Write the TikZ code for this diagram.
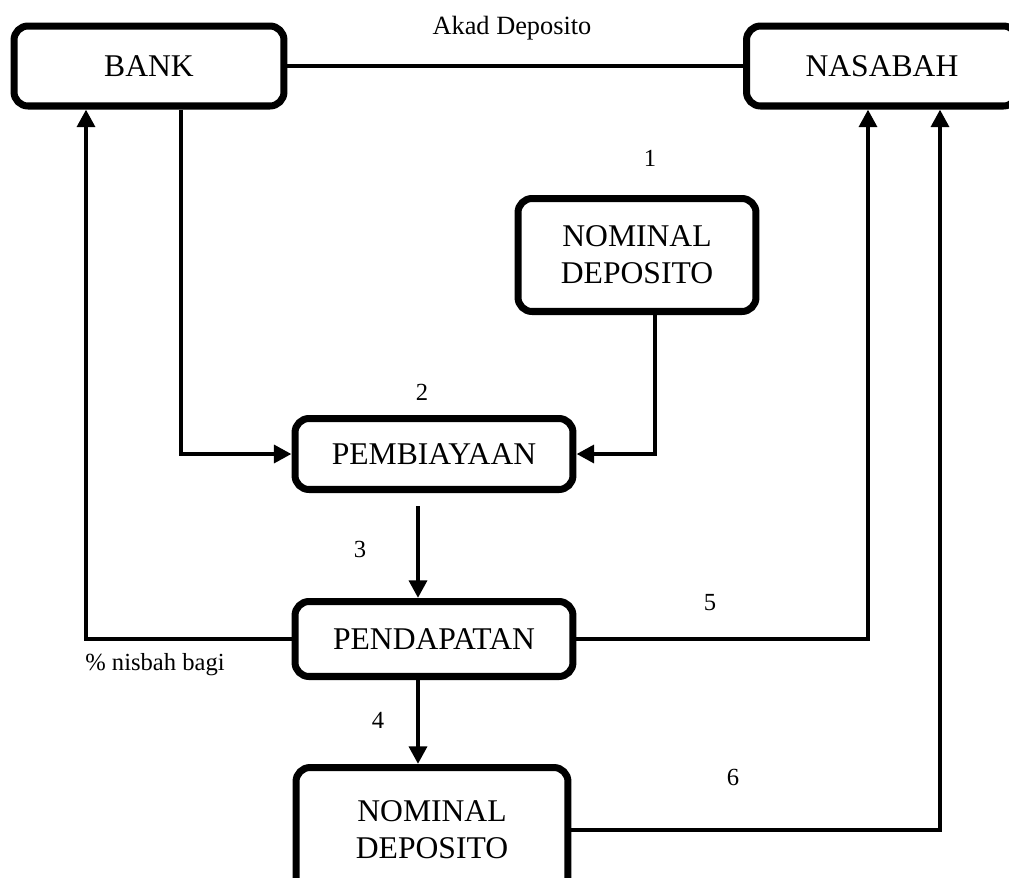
\documentclass[tikz,border=0pt]{standalone}
\usepackage{fontspec}
\setmainfont{Liberation Serif}
\usetikzlibrary{arrows.meta}
\begin{document}
\begin{tikzpicture}[x=0.02cm, y=-0.02cm, >={Triangle[length=10pt,width=10pt]},
	box/.style={draw, line width=4pt, rounded corners=8pt, align=center,
		font=\fontsize{18}{21}\selectfont},
	link/.style={line width=2.8pt},
	lbl/.style={font=\fontsize{14}{16}\selectfont}]
	\useasboundingbox (0,0) rectangle (1009,877);
	\clip (0,0) rectangle (1009,877);
	\node[box, minimum width=5.4cm, minimum height=1.6cm] (bank) at (149,66) {BANK};
	\node[box, minimum width=5.42cm, minimum height=1.6cm] (nasabah) at (882,66) {NASABAH};
	\node[box, minimum width=4.76cm, minimum height=2.26cm] (nomA) at (637,255) {NOMINAL\\DEPOSITO};
	\node[box, minimum width=5.56cm, minimum height=1.42cm] (pemb) at (434,454) {PEMBIAYAAN};
	\node[box, minimum width=5.56cm, minimum height=1.5cm] (pend) at (434,639) {PENDAPATAN};
	\node[box, minimum width=5.44cm, minimum height=2.5cm] (nomB) at (432,830) {NOMINAL\\DEPOSITO};
	\draw[link] (bank.east) -- (nasabah.west);
	\draw[link, ->] (181,0 |- bank.south) |- (pemb.west);
	\draw[link, ->] (655,0 |- nomA.south) |- (pemb.east);
	\draw[link, ->] (418,506) -- (418,0 |- pend.north);
	\draw[link, ->] (pend.west) -| (86,0 |- bank.south);
	\draw[link, ->] (pend.east) -| (868,0 |- nasabah.south);
	\draw[link, ->] (418,0 |- pend.south) -- (418,0 |- nomB.north);
	\draw[link, ->] (nomB.east) -| (940,0 |- nasabah.south);
	\node[font=\fontsize{15}{17}\selectfont] (akad) at (512,28) {Akad Deposito};
	\node[lbl] (n1) at (650,158) {1};
	\node[lbl] (n2) at (422,392) {2};
	\node[lbl] (n3) at (360,549) {3};
	\node[lbl] (n4) at (378,720) {4};
	\node[lbl] (n5) at (710,603) {5};
	\node[lbl] (n6) at (733,777) {6};
	\node[lbl] (nisbah) at (155,665) {\% nisbah bagi};
\end{tikzpicture}
\end{document}
